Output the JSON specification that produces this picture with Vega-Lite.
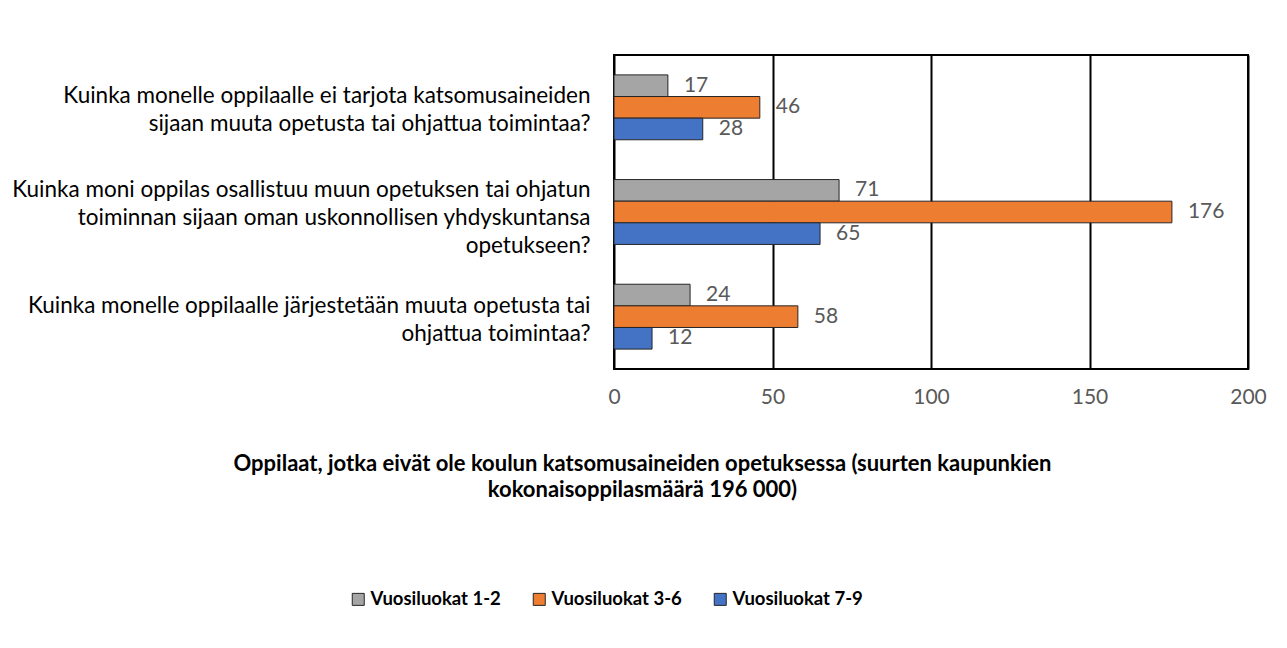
{
  "$schema": "https://vega.github.io/schema/vega-lite/v6.json",
  "autosize": {"type": "none"},
  "width": 634,
  "height": 314,
  "padding": {"left": 614, "top": 55, "right": 39, "bottom": 279},
  "background": "white",
  "config": {
    "font": "Lato",
    "view": {"stroke": "black", "strokeWidth": 2}
  },
  "data": {
    "values": [
      {"q": "Kuinka monelle oppilaalle ei tarjota katsomusaineiden|sijaan muuta opetusta tai ohjattua toimintaa?", "s": "Vuosiluokat 1-2", "v": 17},
      {"q": "Kuinka monelle oppilaalle ei tarjota katsomusaineiden|sijaan muuta opetusta tai ohjattua toimintaa?", "s": "Vuosiluokat 3-6", "v": 46},
      {"q": "Kuinka monelle oppilaalle ei tarjota katsomusaineiden|sijaan muuta opetusta tai ohjattua toimintaa?", "s": "Vuosiluokat 7-9", "v": 28},
      {"q": "Kuinka moni oppilas osallistuu muun opetuksen tai ohjatun|toiminnan sijaan oman uskonnollisen yhdyskuntansa|opetukseen?", "s": "Vuosiluokat 1-2", "v": 71},
      {"q": "Kuinka moni oppilas osallistuu muun opetuksen tai ohjatun|toiminnan sijaan oman uskonnollisen yhdyskuntansa|opetukseen?", "s": "Vuosiluokat 3-6", "v": 176},
      {"q": "Kuinka moni oppilas osallistuu muun opetuksen tai ohjatun|toiminnan sijaan oman uskonnollisen yhdyskuntansa|opetukseen?", "s": "Vuosiluokat 7-9", "v": 65},
      {"q": "Kuinka monelle oppilaalle järjestetään muuta opetusta tai|ohjattua toimintaa?", "s": "Vuosiluokat 1-2", "v": 24},
      {"q": "Kuinka monelle oppilaalle järjestetään muuta opetusta tai|ohjattua toimintaa?", "s": "Vuosiluokat 3-6", "v": 58},
      {"q": "Kuinka monelle oppilaalle järjestetään muuta opetusta tai|ohjattua toimintaa?", "s": "Vuosiluokat 7-9", "v": 12}
    ]
  },
  "encoding": {
    "y": {
      "field": "q", "type": "nominal", "sort": null,
      "scale": {"paddingInner": 0.38, "paddingOuter": 0.19},
      "axis": {
        "title": null, "ticks": false, "domain": false,
        "labelExpr": "split(datum.label, '|')",
        "labelLimit": 0, "labelPadding": 24, "labelFontSize": 22.5,
        "labelLineHeight": 28, "labelColor": "black", "labelAlign": "right",
        "labelOffset": {"condition": {"test": "indexof(datum.value, 'moni oppilas') >= 0", "value": -22}, "value": -11}
      }
    },
    "yOffset": {"field": "s", "type": "nominal", "sort": ["Vuosiluokat 1-2", "Vuosiluokat 3-6", "Vuosiluokat 7-9"]},
    "x": {
      "field": "v", "type": "quantitative",
      "scale": {"domain": [0, 200], "nice": false},
      "axis": {
        "values": [0, 50, 100, 150, 200],
        "ticks": false, "domain": false, "labelFlush": false,
        "grid": true, "gridColor": "black", "gridWidth": 2, "gridOpacity": 1,
        "labelFontSize": 21, "labelColor": "#595959", "labelPadding": 17,
        "title": ["Oppilaat, jotka eivät ole koulun katsomusaineiden opetuksessa (suurten kaupunkien", "kokonaisoppilasmäärä 196 000)"],
        "titleX": 28, "titleY": 84, "titleAlign": "center", "titleBaseline": "top",
        "titleFontSize": 22, "titleFontWeight": "bold", "titleColor": "black",
        "titleLineHeight": 26
      }
    }
  },
  "layer": [
    {
      "mark": {"type": "bar", "stroke": "#262626", "strokeWidth": 1},
      "encoding": {
        "color": {
          "field": "s", "type": "nominal",
          "scale": {"domain": ["Vuosiluokat 1-2", "Vuosiluokat 3-6", "Vuosiluokat 7-9"], "range": ["#A5A5A5", "#ED7D31", "#4472C4"]},
          "legend": {
            "title": null, "orient": "none", "direction": "horizontal",
            "legendX": -265, "legendY": 535,
            "symbolType": "square", "symbolSize": 144,
            "symbolStrokeColor": "#262626", "symbolStrokeWidth": 1,
            "labelFontSize": 18.5, "labelFontWeight": "bold", "labelColor": "black",
            "labelOffset": 3, "columnPadding": 29
          }
        }
      }
    },
    {
      "mark": {"type": "text", "align": "left", "baseline": "middle", "dx": 16, "fontSize": 21, "color": "#595959"},
      "encoding": {"text": {"field": "v", "type": "quantitative"}}
    }
  ]
}
